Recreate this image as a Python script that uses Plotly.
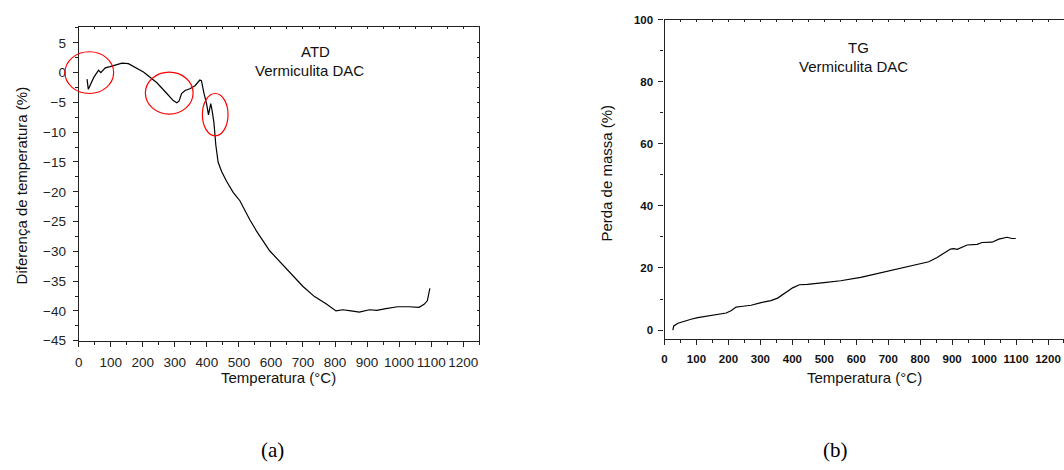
import plotly.graph_objects as go

# ---- Data: ATD (DTA) curve ----
atd_temp = [26, 30, 47, 62, 69, 83, 98, 109, 135, 155, 181, 202, 212, 244, 275, 295, 306, 313,
            321, 332, 347, 363, 378, 383, 391, 399, 405, 412, 416, 422, 428, 435, 446, 461, 482,
            503, 534, 555, 596, 648, 700, 736, 772, 803, 824, 850, 876, 907, 930, 959, 995, 1031,
            1062, 1078, 1088, 1096]
atd_diff = [-1.1, -2.8, -0.8, 0.4, 0.0, 0.8, 1.0, 1.2, 1.6, 1.5, 0.8, 0.1, -0.3, -1.7, -3.5, -4.7,
            -5.05, -4.8, -3.5, -3.0, -2.7, -2.2, -1.25, -1.35, -3.5, -5.2, -7.1, -5.2, -6.25, -8.4,
            -12.2, -15.0, -16.6, -18.2, -20.1, -21.5, -24.7, -26.6, -29.9, -32.9, -35.9, -37.6,
            -38.8, -40.0, -39.8, -40.0, -40.2, -39.8, -39.9, -39.6, -39.3, -39.3, -39.4, -38.9,
            -38.3, -36.2]

# ---- Data: TG curve ----
tg_temp = [26, 29, 42, 62, 83, 104, 135, 166, 193, 208, 224, 239, 271, 302, 333, 354, 375, 401,
           422, 447, 499, 551, 614, 656, 708, 760, 801, 827, 853, 879, 895, 905, 916, 947, 968,
           978, 994, 1025, 1046, 1072, 1087, 1099]
tg_loss = [0.0, 1.35, 2.2, 2.9, 3.5, 4.0, 4.5, 5.0, 5.5, 6.25, 7.4, 7.6, 8.0, 8.85, 9.5, 10.3,
           11.8, 13.6, 14.6, 14.7, 15.3, 15.9, 17.0, 18.0, 19.3, 20.3, 21.35, 22.0, 23.4, 25.1,
           26.1, 26.25, 26.0, 27.4, 27.7, 27.6, 28.2, 28.3, 29.3, 29.9, 29.5, 29.5]

# ---- Highlighted regions on the ATD curve (temperature span, value span) ----
highlight_temp = [(-43, 109), (208, 357), (386, 466)]
highlight_diff = [(-3.5, 3.5), (-6.95, 0.1), (-10.6, -3.5)]

# ---- Text ----
x_title = "Temperatura (°C)"
y_title_a = "Diferença de temperatura (%)"
y_title_b = "Perda de massa (%)"
label_a = ["ATD", "Vermiculita DAC"]
label_b = ["TG", "Vermiculita DAC"]

W, H = 1064, 470
AX = "#222222"
FONT = "Liberation Sans, Arial, sans-serif"


def px(x):
    return x / W


def py(y):
    return 1 - y / H


fig = go.Figure()
fig.add_trace(go.Scatter(x=atd_temp, y=atd_diff, mode="lines", line=dict(color="black", width=1.2),
                         xaxis="x", yaxis="y", showlegend=False))
fig.add_trace(go.Scatter(x=tg_temp, y=tg_loss, mode="lines", line=dict(color="black", width=1.2),
                         xaxis="x2", yaxis="y2", showlegend=False))

dom_xa = [px(75), px(477)]
dom_ya = [py(345), py(22)]
rng_xa = [0, 1250]
rng_ya = [-45, 7.6]
dom_xb = [px(663), 1.0]
dom_yb = [py(343), py(14)]

tick_a = dict(family=FONT, size=13.5, color=AX)
tick_b = dict(family=FONT, size=11.5, color="#111111", weight="bold")

common = dict(showgrid=False, zeroline=False, showline=True, linecolor=AX, linewidth=1.2,
              tickcolor=AX, tickwidth=1)

layout = dict(
    width=W, height=H, margin=dict(l=0, r=0, t=0, b=0),
    plot_bgcolor="white", paper_bgcolor="white",
    xaxis=dict(domain=dom_xa, anchor="y", range=rng_xa, dtick=100, tick0=0, ticks="outside",
               ticklen=5, tickfont=tick_a, ticklabelstandoff=4,
               minor=dict(ticks="outside", dtick=50, ticklen=3, tickcolor=AX), **common),
    yaxis=dict(domain=dom_ya, anchor="x", range=rng_ya, dtick=5, tick0=0, ticks="outside",
               ticklen=5, tickfont=tick_a, ticklabelstandoff=4,
               minor=dict(ticks="outside", dtick=2.5, ticklen=3, tickcolor=AX), **common),
    xaxis3=dict(overlaying="x", anchor="y", side="top", range=rng_xa, dtick=50, tick0=0,
                ticks="inside", ticklen=2, showticklabels=False, **common),
    yaxis3=dict(overlaying="y", anchor="x", side="right", range=rng_ya, dtick=2.5, tick0=0,
                ticks="inside", ticklen=2, showticklabels=False, **common),
    xaxis2=dict(domain=dom_xb, anchor="y2", range=[0, 1250], dtick=100, tick0=0, ticks="outside",
                ticklen=5, tickfont=tick_b, ticklabelstandoff=4,
                minor=dict(ticks="outside", dtick=50, ticklen=3, tickcolor=AX), **common),
    yaxis2=dict(domain=dom_yb, anchor="x2", range=[-2.8, 100], dtick=20, tick0=0, ticks="outside",
                ticklen=5, tickfont=tick_b, ticklabelstandoff=3,
                minor=dict(ticks="outside", dtick=10, ticklen=3, tickcolor=AX), **common),
    xaxis4=dict(overlaying="x2", anchor="y2", side="top", range=[0, 1250], dtick=50, tick0=0,
                ticks="inside", ticklen=2, showticklabels=False, **common),
)
fig.update_layout(**layout)

# invisible traces so overlay axes render
fig.add_trace(go.Scatter(x=[None], y=[None], xaxis="x3", yaxis="y3", showlegend=False))
fig.add_trace(go.Scatter(x=[None], y=[None], xaxis="x4", yaxis="y2", showlegend=False))

ann_font = dict(family=FONT, size=15, color="#111111")
annotations = [
    dict(x=px(276), y=py(383), text=x_title),
    dict(x=px(864), y=py(383), text=x_title),
    dict(x=px(313), y=py(47), text=label_a[0]),
    dict(x=px(307), y=py(66), text=label_a[1]),
    dict(x=px(858), y=py(43), text=label_b[0]),
    dict(x=px(853), y=py(62), text=label_b[1]),
]
for a in annotations:
    fig.add_annotation(x=a["x"], y=a["y"], xref="paper", yref="paper", text=a["text"],
                       showarrow=False, font=ann_font, xanchor="center", yanchor="middle")
fig.add_annotation(x=px(18), y=py(185), xref="paper", yref="paper", text=y_title_a, textangle=-90,
                   showarrow=False, font=ann_font, xanchor="center", yanchor="middle")
fig.add_annotation(x=px(605), y=py(172), xref="paper", yref="paper", text=y_title_b, textangle=-90,
                   showarrow=False, font=ann_font, xanchor="center", yanchor="middle")

cap_font = dict(family="Liberation Serif, Times New Roman, serif", size=21, color="black")
fig.add_annotation(x=px(270), y=py(458), xref="paper", yref="paper", text="(a)", showarrow=False,
                   font=cap_font, xanchor="center", yanchor="middle")
fig.add_annotation(x=px(835), y=py(458), xref="paper", yref="paper", text="(b)", showarrow=False,
                   font=cap_font, xanchor="center", yanchor="middle")


# red ellipses highlighting events; mapped from ATD data coordinates to paper
# coordinates so they are not clipped at the axis edge (as in the original)
def to_paper_x(v):
    return dom_xa[0] + (v - rng_xa[0]) / (rng_xa[1] - rng_xa[0]) * (dom_xa[1] - dom_xa[0])


def to_paper_y(v):
    return dom_ya[0] + (v - rng_ya[0]) / (rng_ya[1] - rng_ya[0]) * (dom_ya[1] - dom_ya[0])


for (t0, t1), (d0, d1) in zip(highlight_temp, highlight_diff):
    fig.add_shape(type="circle", xref="paper", yref="paper",
                  x0=to_paper_x(t0), x1=to_paper_x(t1), y0=to_paper_y(d0), y1=to_paper_y(d1),
                  line=dict(color="red", width=1.2), layer="above")

fig.write_html("out.html")
